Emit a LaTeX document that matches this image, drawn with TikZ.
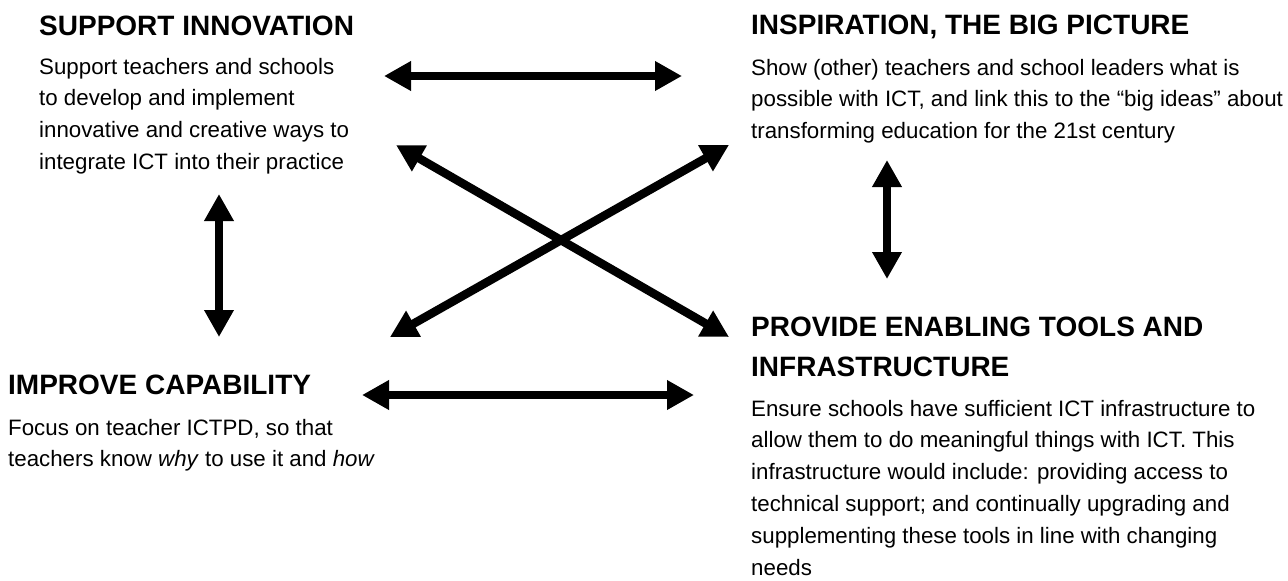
\documentclass[tikz,border=0pt]{standalone}
\usepackage{fontspec}
\setmainfont{Liberation Sans}
\usepackage{tikz}
\usetikzlibrary{arrows.meta}

\begin{document}
\begin{tikzpicture}[x=1pt,y=-1pt]

          \tikzstyle{headNode} = [anchor=base west, inner sep=0pt, align=left, font=\fontsize{28}{40}\selectfont\bfseries];
          \tikzstyle{textNode} = [anchor=base west, inner sep=0pt, align=left, font=\fontsize{22.3}{31.8}\selectfont];
          \tikzstyle{doubleEdge} = [line width=8.5pt, {Triangle[length=27pt,width=28pt]}-{Triangle[length=27pt,width=28pt]}];

          \useasboundingbox (0,0) rectangle (1288,581);

          \node[headNode] (supHead) at (39,35) {SUPPORT INNOVATION};
          \node[textNode] (supText) at (39,169.4) {Support teachers and schools\\to develop and implement\\innovative and creative ways to\\integrate ICT into their practice};

          \node[headNode] (insHead) at (751,34) {INSPIRATION, THE BIG PICTURE};
          \node[textNode] (insText) at (751,138.6) {Show (other) teachers and school leaders what is\\possible with ICT, and link this to the “big ideas” about\\transforming education for the 21st century};

          \node[headNode] (impHead) at (8,394) {IMPROVE CAPABILITY};
          \node[textNode] (impText) at (8,466.8) {Focus on teacher ICTPD, so that\\teachers know \textit{why} to use it and \textit{how}};

          \node[headNode] (proHead) at (751,376) {PROVIDE ENABLING TOOLS AND\\INFRASTRUCTURE};
          \node[textNode] (proText) at (751,575) {Ensure schools have sufficient ICT infrastructure to\\allow them to do meaningful things with ICT. This\\infrastructure would include: providing access to\\technical support; and continually upgrading and\\supplementing these tools in line with changing\\needs};

          \coordinate (supE) at (384,76);
          \coordinate (insW) at (682,76);
          \coordinate (supS) at (219,194);
          \coordinate (impN) at (219,337);
          \coordinate (insS) at (887,160);
          \coordinate (proN) at (887,279);
          \coordinate (impE) at (362,395);
          \coordinate (proW) at (694,395);
          \coordinate (supSE) at (396,145);
          \coordinate (proNW) at (729,337);
          \coordinate (impNE) at (390,337);
          \coordinate (insSW) at (729,145);

          \draw[doubleEdge] (supE) -- (insW);
          \draw[doubleEdge] (supS) -- (impN);
          \draw[doubleEdge] (insS) -- (proN);
          \draw[doubleEdge] (impE) -- (proW);
          \draw[doubleEdge] (supSE) -- (proNW);
          \draw[doubleEdge] (impNE) -- (insSW);
        \end{tikzpicture}
\end{document}
